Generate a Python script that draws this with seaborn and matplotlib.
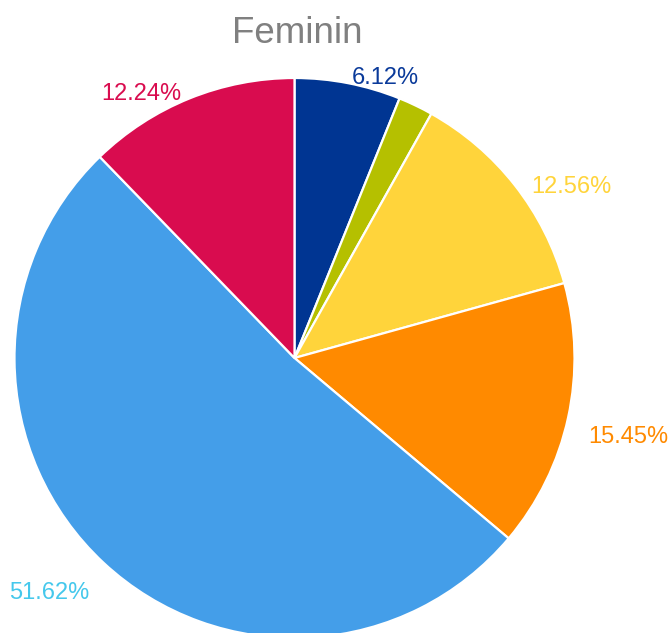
import matplotlib
matplotlib.use("Agg")
import matplotlib.pyplot as plt
import seaborn as sns

sns.set_theme(style="white")
plt.rcParams['font.family'] = ['Liberation Sans', 'DejaVu Sans']

title = "Feminin"
values = [6.12, 2.01, 12.56, 15.45, 51.62, 12.24]
labels = ["6.12%", "", "12.56%", "15.45%", "51.62%", "12.24%"]
colors = ["#003592", "#b5c000", "#ffd43b", "#ff8a00", "#449ee9", "#d90c4f"]
label_colors = ["#0a3a9a", "#b5c000", "#ffd43b", "#ff8a00", "#45c8ec", "#d90c4f"]

W, H = 668, 633
cx, cy, R = 294.5, 358, 280
fig = plt.figure(figsize=(W / 100, H / 100), dpi=100)
ax = fig.add_axes([0, 0, 1, 1])

wedges, texts = ax.pie(values, labels=labels, colors=colors, startangle=90,
                       counterclock=False, radius=1, labeldistance=1.075,
                       wedgeprops=dict(edgecolor='white', linewidth=1.6),
                       textprops=dict(fontsize=17))
for t, c in zip(texts, label_colors):
    t.set_color(c)
    t.set_va('top')
    x, y = t.get_position()
    t.set_position((x, y - 4 / R))

ax.set_xlim(-cx / R, (W - cx) / R)
ax.set_ylim(-(H - cy) / R, cy / R)
ax.set_aspect('equal')
ax.axis('off')

ax.text(0.445, 0.947, title, transform=fig.transFigure, ha='center', va='center',
        fontsize=26.5, color='#808080')

fig.savefig("out.png", dpi=100)
